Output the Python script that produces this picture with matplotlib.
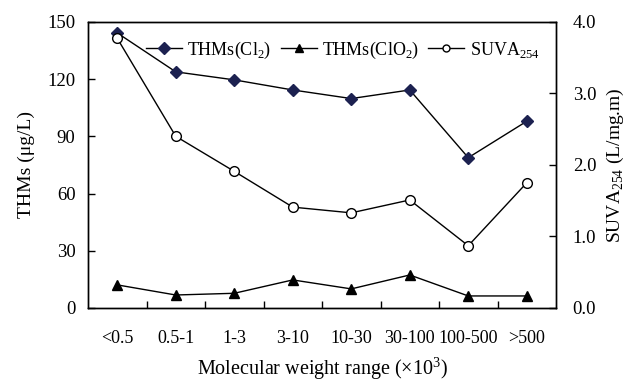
import matplotlib
matplotlib.use("Agg")
import matplotlib.pyplot as plt
from matplotlib.lines import Line2D
import numpy as np

plt.rcParams['font.family'] = ['Liberation Serif', 'DejaVu Serif']
plt.rcParams['mathtext.fontset'] = 'custom'
plt.rcParams['mathtext.rm'] = 'Liberation Serif'

categories = ['<0.5', '0.5-1', '1-3', '3-10', '10-30', '30-100', '100-500', '>500']
thms_cl2 = [144.2, 123.8, 119.6, 114.3, 109.8, 114.3, 78.8, 97.9]
thms_clo2 = [12.1, 6.8, 7.7, 14.7, 10.0, 17.3, 6.3, 6.3]
suva254 = [3.77, 2.40, 1.91, 1.41, 1.33, 1.51, 0.87, 1.75]

x = np.arange(len(categories))

fig = plt.figure(figsize=(6.26, 3.84), dpi=100)
ax = fig.add_axes([0.1406, 0.198, 0.7476, 0.745])
ax2 = ax.twinx()

ax.plot(x, thms_cl2, color='black', lw=1, marker='D', ms=6,
        markerfacecolor='#1c2150', markeredgecolor='#1c2150', zorder=3)
ax.plot(x, thms_clo2, color='black', lw=1, marker='^', ms=7.5,
        markerfacecolor='black', markeredgecolor='black', zorder=3)
ax2.plot(x, suva254, color='black', lw=1, marker='o', ms=7,
         markerfacecolor='white', markeredgecolor='black', zorder=3)

ax.set_xlim(-0.5, len(categories) - 0.5)
ax.set_ylim(0, 150)
ax2.set_ylim(0, 4.0)
ax.set_yticks([0, 30, 60, 90, 120, 150])
ax2.set_yticks([0, 1, 2, 3, 4])
ax2.set_yticklabels(['0.0', '1.0', '2.0', '3.0', '4.0'])

ax.set_xticks(x)
ax.set_xticklabels(categories)
ax.set_xticks(np.arange(0.5, len(categories) - 1, 1.0), minor=True)
ax.tick_params(axis='x', which='major', length=0, pad=16, labelsize=13)
ax.tick_params(axis='x', which='minor', direction='in', length=5, width=1)
ax.tick_params(axis='y', direction='in', length=5, width=1, labelsize=13.5, pad=9)
ax2.tick_params(axis='y', direction='in', length=5, width=1, labelsize=13.5, pad=12)

for a in (ax, ax2):
    for s in a.spines.values():
        s.set_linewidth(1)

ax.set_ylabel('THMs (μg/L)', fontsize=14, labelpad=9)
ax2.set_ylabel('SUVA$_{254}$ (L/mg.m)', fontsize=14, labelpad=6)
ax.set_xlabel('Molecular weight range (×10$^3$)', fontsize=14.5, labelpad=6)

handles = [
    Line2D([], [], color='black', lw=1, marker='D', ms=6,
           markerfacecolor='#1c2150', markeredgecolor='#1c2150'),
    Line2D([], [], color='black', lw=1, marker='^', ms=6,
           markerfacecolor='black', markeredgecolor='black'),
    Line2D([], [], color='black', lw=1, marker='o', ms=5,
           markerfacecolor='white', markeredgecolor='black'),
]
labels = ['THMs(Cl$_2$)', 'THMs(ClO$_2$)', 'SUVA$_{254}$']
ax2.legend(handles, labels, ncol=3, frameon=False, loc='upper right',
           bbox_to_anchor=(1.0, 0.995), fontsize=13, handlelength=2.0,
           handletextpad=0.3, columnspacing=0.5)

fig.savefig('out.png', dpi=100)
